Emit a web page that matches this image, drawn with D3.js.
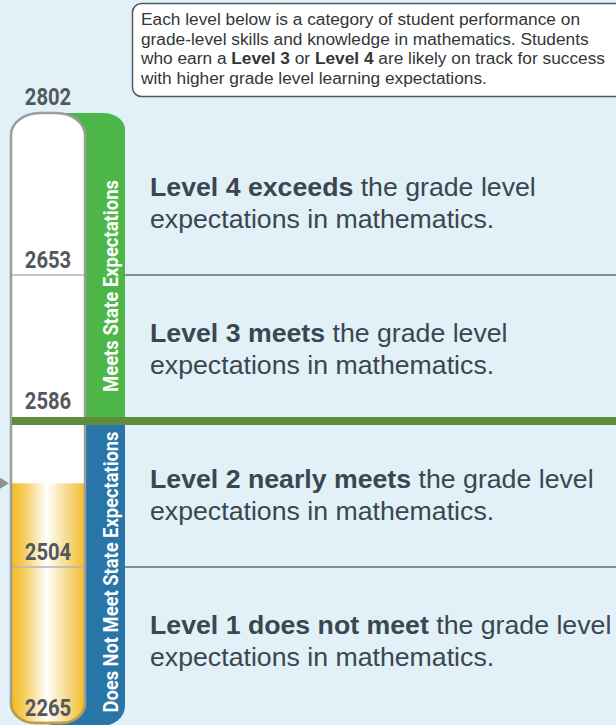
<!DOCTYPE html>
<html>
<head>
<meta charset="utf-8">
<script src="https://cdn.jsdelivr.net/npm/d3@7"></script>
<style>
  body { margin: 0; background: #e2f0f8; }
  svg { display: block; }
</style>
</head>
<body>
<div id="chart"></div>
<script>
// cut scores, top of scale to bottom
var cutScores = [2802, 2653, 2586, 2504, 2265];
var studentScore = 2551;
var groupSplit = 2586;

var levelBold = ["Level 4 exceeds", "Level 3 meets", "Level 2 nearly meets", "Level 1 does not meet"];
var levelRest = [" the grade level", " the grade level", " the grade level", " the grade level"];
var levelLine2 = ["expectations in mathematics.", "expectations in mathematics.", "expectations in mathematics.", "expectations in mathematics."];

var groupNames = ["Meets State Expectations", "Does Not Meet State Expectations"];

// [text, bold]
var introLines = [
  [["Each level below is a category of student performance on", false]],
  [["grade-level skills and knowledge in mathematics. Students", false]],
  [["who earn a ", false], ["Level 3", true], [" or ", false], ["Level 4", true], [" are likely on track for success", false]],
  [["with higher grade level learning expectations.", false]]
];

var width = 616, height = 725;

var svg = d3.select("#chart")
  .append("svg")
  .attr("width", width)
  .attr("height", height);

var defs = svg.append("defs");

// y position for each cut score (equal height levels)
var y = d3.scalePoint()
  .domain(cutScores)
  .range([129, 713]);

// piecewise linear inside each level, for the student's score
var yScore = d3.scaleLinear()
  .domain(cutScores)
  .range(cutScores.map(function(d) { return y(d); }));

var tube = {left: 11, right: 85, top: y(cutScores[0]) - 16, bottom: y(cutScores[cutScores.length - 1]) + 10};
var band = {left: 50, right: 125};
var splitY = y(groupSplit);

/* rounded box path, r = [tl, tr, br, bl] each [rx, ry] */
function roundBox(x0, x1, t, b, r) {
  var p = "M" + x0 + "," + (t + r[0][1]);
  p += "A" + r[0][0] + "," + r[0][1] + " 0 0 1 " + (x0 + r[0][0]) + "," + t;
  p += "L" + (x1 - r[1][0]) + "," + t;
  p += "A" + r[1][0] + "," + r[1][1] + " 0 0 1 " + x1 + "," + (t + r[1][1]);
  p += "L" + x1 + "," + (b - r[2][1]);
  p += "A" + r[2][0] + "," + r[2][1] + " 0 0 1 " + (x1 - r[2][0]) + "," + b;
  p += "L" + (x0 + r[3][0]) + "," + b;
  p += "A" + r[3][0] + "," + r[3][1] + " 0 0 1 " + x0 + "," + (b - r[3][1]);
  return p + "Z";
}

svg.append("rect")
  .attr("width", width)
  .attr("height", height)
  .attr("fill", "#e2f0f8");

// level boundary lines
svg.selectAll(".cut")
  .data(cutScores.slice(1, -1).filter(function(d) { return d != groupSplit; }))
  .enter()
  .append("line")
  .attr("class", "cut")
  .attr("x1", band.right)
  .attr("x2", width)
  .attr("y1", function(d) { return y(d); })
  .attr("y2", function(d) { return y(d); })
  .attr("stroke", "#8a8d90")
  .attr("stroke-width", 2);

// group bands
var bandColors = ["#4cb748", "#2875a7"];
svg.append("path")
  .attr("d", roundBox(band.left, band.right, tube.top, splitY - 4, [[0.01, 0.01], [22, 16], [0.01, 0.01], [0.01, 0.01]]))
  .attr("fill", bandColors[0]);
svg.append("path")
  .attr("d", roundBox(band.left, band.right, splitY + 4, height + 1, [[0.01, 0.01], [0.01, 0.01], [24, 20], [0.01, 0.01]]))
  .attr("fill", bandColors[1]);

// thermometer tube
var tubeD = roundBox(tube.left, tube.right, tube.top, tube.bottom, [[29, 22], [29, 22], [24, 20], [24, 20]]);

defs.append("clipPath")
  .attr("id", "tubeClip")
  .append("path")
  .attr("d", tubeD);

var grad = defs.append("linearGradient")
  .attr("id", "gold")
  .attr("x1", "0%").attr("x2", "100%")
  .attr("y1", "0%").attr("y2", "0%");
grad.append("stop").attr("offset", "0%").attr("stop-color", "#f4b91f");
grad.append("stop").attr("offset", "18%").attr("stop-color", "#f6cd5e");
grad.append("stop").attr("offset", "48%").attr("stop-color", "#ffffff");
grad.append("stop").attr("offset", "80%").attr("stop-color", "#f5d57c");
grad.append("stop").attr("offset", "100%").attr("stop-color", "#f1bb2c");

svg.append("path")
  .attr("d", tubeD)
  .attr("fill", "#ffffff");

var scoreY = yScore(studentScore);

svg.append("rect")
  .attr("clip-path", "url(#tubeClip)")
  .attr("x", tube.left)
  .attr("width", tube.right - tube.left)
  .attr("y", scoreY)
  .attr("height", tube.bottom - scoreY + 2)
  .attr("fill", "url(#gold)");

// lines inside tube
svg.selectAll(".inner")
  .data(cutScores.slice(1, -1).filter(function(d) { return d != groupSplit; }))
  .enter()
  .append("line")
  .attr("class", "inner")
  .attr("x1", tube.left)
  .attr("x2", tube.right)
  .attr("y1", function(d) { return y(d); })
  .attr("y2", function(d) { return y(d); })
  .attr("stroke", "#b4b4b4")
  .attr("stroke-width", 1.5);

svg.append("path")
  .attr("d", tubeD)
  .attr("fill", "none")
  .attr("stroke", "#9c9c9c")
  .attr("stroke-width", 2.5);

// gold rim at the bottom
defs.append("clipPath")
  .attr("id", "bottomClip")
  .append("rect")
  .attr("x", 0).attr("width", 120)
  .attr("y", tube.bottom - 22).attr("height", 40);

svg.append("path")
  .attr("d", tubeD)
  .attr("clip-path", "url(#bottomClip)")
  .attr("fill", "none")
  .attr("stroke", "#bf9d45")
  .attr("stroke-width", 2.5);

// divider between meets / does not meet
svg.append("rect")
  .attr("x", tube.left + 1)
  .attr("width", width - tube.left)
  .attr("y", splitY - 4)
  .attr("height", 8)
  .attr("fill", "#5f8c3c");

// student score marker
svg.append("path")
  .attr("d", "M0," + (scoreY - 5.5) + "L9," + scoreY + "L0," + (scoreY + 5.5) + "Z")
  .attr("fill", "#8e9092");

// cut score labels
svg.selectAll(".score")
  .data(cutScores)
  .enter()
  .append("text")
  .attr("class", "score")
  .attr("transform", function(d, i) {
    var ty;
    if (i == 0) ty = tube.top - 8;
    else if (i == cutScores.length - 1) ty = y(d) + 3;
    else if (d == groupSplit) ty = y(d) - 12;
    else ty = y(d) - 7;
    return "translate(48," + ty + ")scale(0.92,1.05)";
  })
  .attr("text-anchor", "middle")
  .style("font-family", "Roboto, 'DejaVu Sans', sans-serif")
  .style("font-weight", "bold")
  .style("font-size", "22px")
  .attr("fill", "#54585d")
  .text(function(d) { return d; });

// vertical group labels
var labelCenters = [286, (splitY + 4 + height) / 2 - 3];
var labelLengths = [212, 281];
groupNames.forEach(function(name, i) {
  svg.append("text")
    .attr("transform", "translate(118," + labelCenters[i] + ")rotate(-90)")
    .attr("text-anchor", "middle")
    .attr("textLength", labelLengths[i])
    .attr("lengthAdjust", "spacingAndGlyphs")
    .style("font-family", "Roboto, 'DejaVu Sans', sans-serif")
    .style("font-weight", "bold")
    .style("font-size", "20px")
    .attr("fill", "#ffffff")
    .text(name);
});

// level descriptions
var levels = d3.range(cutScores.length - 1);
var desc = svg.selectAll(".desc")
  .data(levels)
  .enter()
  .append("g")
  .attr("class", "desc")
  .attr("transform", function(i) {
    return "translate(150," + (y(cutScores[i]) + y(cutScores[i + 1])) / 2 + ")";
  })
  .style("font-family", "'Liberation Sans', Arial, sans-serif")
  .style("font-size", "26.7px")
  .attr("fill", "#3b4650");

var line1 = desc.append("text").attr("y", -6);
line1.append("tspan").style("font-weight", "bold").text(function(i) { return levelBold[i]; });
line1.append("tspan").text(function(i) { return levelRest[i]; });
desc.append("text").attr("y", 26).text(function(i) { return levelLine2[i]; });

// intro box
svg.append("rect")
  .attr("x", 132.5)
  .attr("y", 3.5)
  .attr("width", 520)
  .attr("height", 93)
  .attr("rx", 9)
  .attr("fill", "#ffffff")
  .attr("stroke", "#55585b")
  .attr("stroke-width", 1.5);

var intro = svg.append("g")
  .style("font-family", "'Liberation Sans', Arial, sans-serif")
  .style("font-size", "17.3px")
  .attr("fill", "#333638");

introLines.forEach(function(parts, i) {
  var t = intro.append("text")
    .attr("x", 141)
    .attr("y", 25 + i * 19.5);
  parts.forEach(function(p) {
    t.append("tspan")
      .style("font-weight", p[1] ? "bold" : "normal")
      .text(p[0]);
  });
});
</script>
</body>
</html>
